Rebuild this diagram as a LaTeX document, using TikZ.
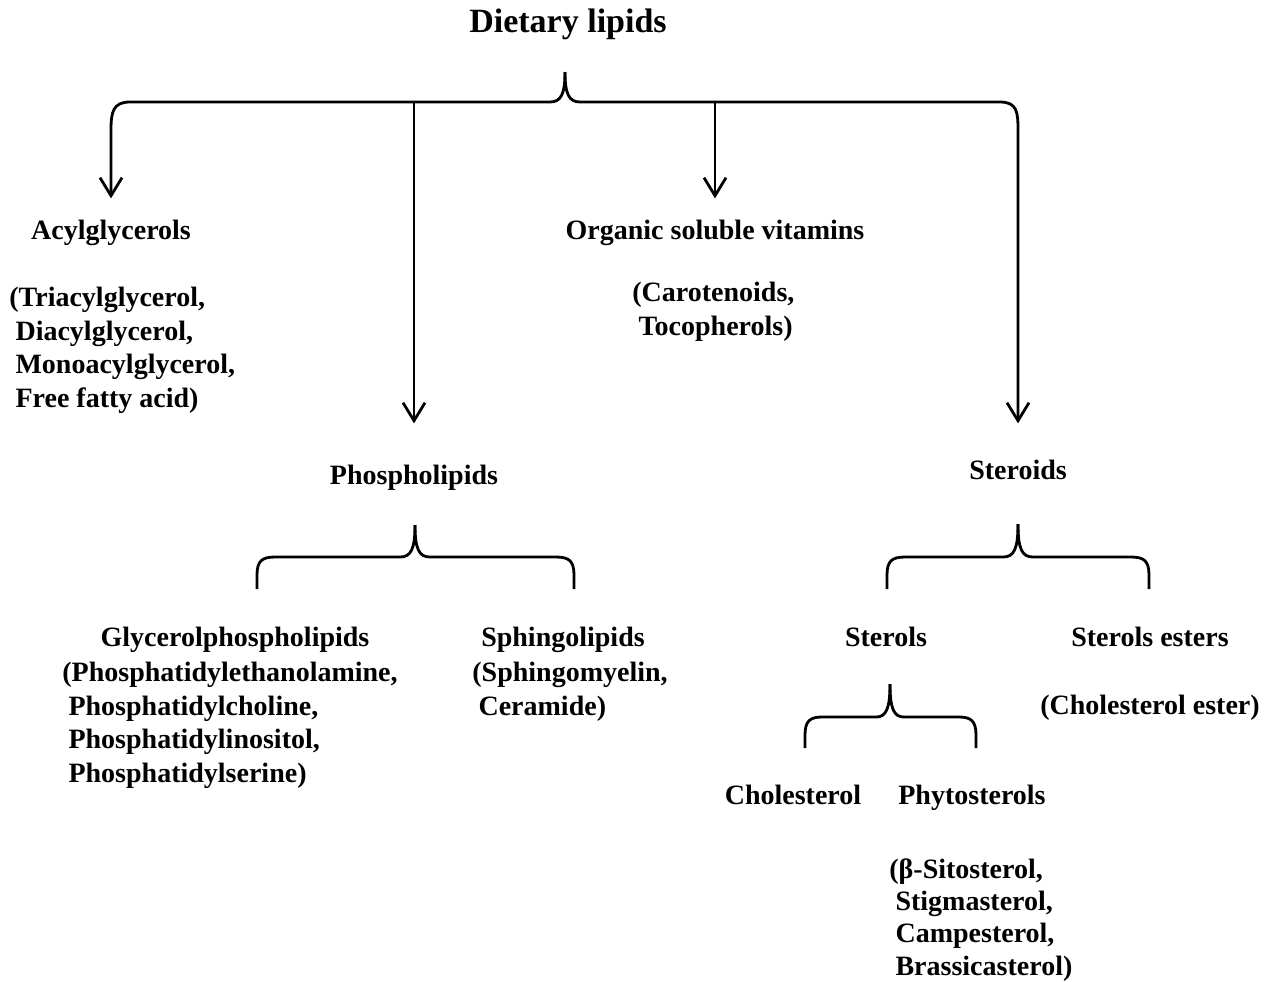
\documentclass[tikz,border=0pt]{standalone}
\usepackage{fontspec}
\setmainfont{Liberation Serif}
\usetikzlibrary{arrows.meta}

\tikzset{
  lbl/.style={font=\bfseries\fontsize{14}{16.7}\selectfont, inner sep=0pt, anchor=base},
  lst/.style={lbl, align=left, anchor=north west},
  brc/.style={line width=1.4pt},
  arr/.style={brc, -{Straight Barb[length=9pt,width=11pt]}},
}
\newcommand{\ind}{\hspace*{0.22em}}

\begin{document}
\begin{tikzpicture}[x=0.5pt,y=-0.5pt]
\useasboundingbox (0,0) rectangle (1264,981);

% top
\node (diet) [lbl, font=\bfseries\fontsize{17}{20}\selectfont] at (568,32) {Dietary lipids};

% first level
\node (acyl) [lbl] at (111,239) {Acylglycerols};
\node (acyllist) [lst] at (9,287) {(Triacylglycerol,\\ \ind Diacylglycerol,\\ \ind Monoacylglycerol,\\ \ind Free fatty acid)};
\node (vit) [lbl] at (715,239) {Organic soluble vitamins};
\node (vitlist) [lst] at (632,282) {(Carotenoids,\\ \ind Tocopherols)};
\node (phos) [lbl] at (414,484) {Phospholipids};
\node (ster) [lbl] at (1018,479) {Steroids};

% second level
\node (glyc) [lbl] at (235,646) {Glycerolphospholipids};
\node (glyclist) [lst] at (62,662) {(Phosphatidylethanolamine,\\ \ind Phosphatidylcholine,\\ \ind Phosphatidylinositol,\\ \ind Phosphatidylserine)};
\node (sph) [lbl] at (563,646) {Sphingolipids};
\node (sphlist) [lst] at (472,662) {(Sphingomyelin,\\ \ind Ceramide)};
\node (sterols) [lbl] at (886,646) {Sterols};
\node (esters) [lbl] at (1150,646) {Sterols esters};
\node (esterlist) [lbl] at (1150,714) {(Cholesterol ester)};

% third level
\node (chol) [lbl] at (793,804) {Cholesterol};
\node (phyto) [lbl] at (972,804) {Phytosterols};
\node (phytolist) [lst, font=\bfseries\fontsize{14}{16.2}\selectfont] at (889,858) {(β-Sitosterol,\\ \ind Stigmasterol,\\ \ind Campesterol,\\ \ind Brassicasterol)};

% top brace with arrows
\coordinate (top) at (565,72);
\coordinate (bar) at (0,102);
\draw [arr, shorten >=10.4pt] (top) .. controls (565,94) and (561,102) .. (550,102) -- (130,102)
  .. controls (113,102) and (111,112) .. (111,130) -- (acyl.north);
\draw [arr, shorten >=17.9pt] (top) .. controls (565,94) and (569,102) .. (580,102) -- (1000,102)
  .. controls (1017,102) and (1018,112) .. (1018,130) -- (ster.north);
\draw [arr, shorten >=20.4pt] (phos.north |- bar) -- (phos.north);
\draw [arr, shorten >=10.4pt] (vit.north |- bar) -- (vit.north);

% phospholipids brace
\coordinate (phtop) at (415,525);
\draw [brc] (257,589) -- (257,575) .. controls (257,561) and (262,557) .. (275,557) -- (400,557)
  .. controls (411,557) and (415,549) .. (phtop);
\draw [brc] (574,589) -- (574,575) .. controls (574,561) and (569,557) .. (556,557) -- (430,557)
  .. controls (419,557) and (415,549) .. (phtop);

% steroids brace
\coordinate (sttop) at (1018,524);
\draw [brc] (887,589) -- (887,575) .. controls (887,561) and (892,557) .. (905,557) -- (1003,557)
  .. controls (1014,557) and (1018,549) .. (sttop);
\draw [brc] (1149,589) -- (1149,575) .. controls (1149,561) and (1144,557) .. (1131,557) -- (1033,557)
  .. controls (1022,557) and (1018,549) .. (sttop);

% sterols brace
\coordinate (sltop) at (890,684);
\draw [brc] (805,748) -- (805,735) .. controls (805,721) and (810,717) .. (822,717) -- (876,717)
  .. controls (886,717) and (890,709) .. (sltop);
\draw [brc] (976,748) -- (976,735) .. controls (976,721) and (971,717) .. (959,717) -- (904,717)
  .. controls (894,717) and (890,709) .. (sltop);
\end{tikzpicture}
\end{document}
